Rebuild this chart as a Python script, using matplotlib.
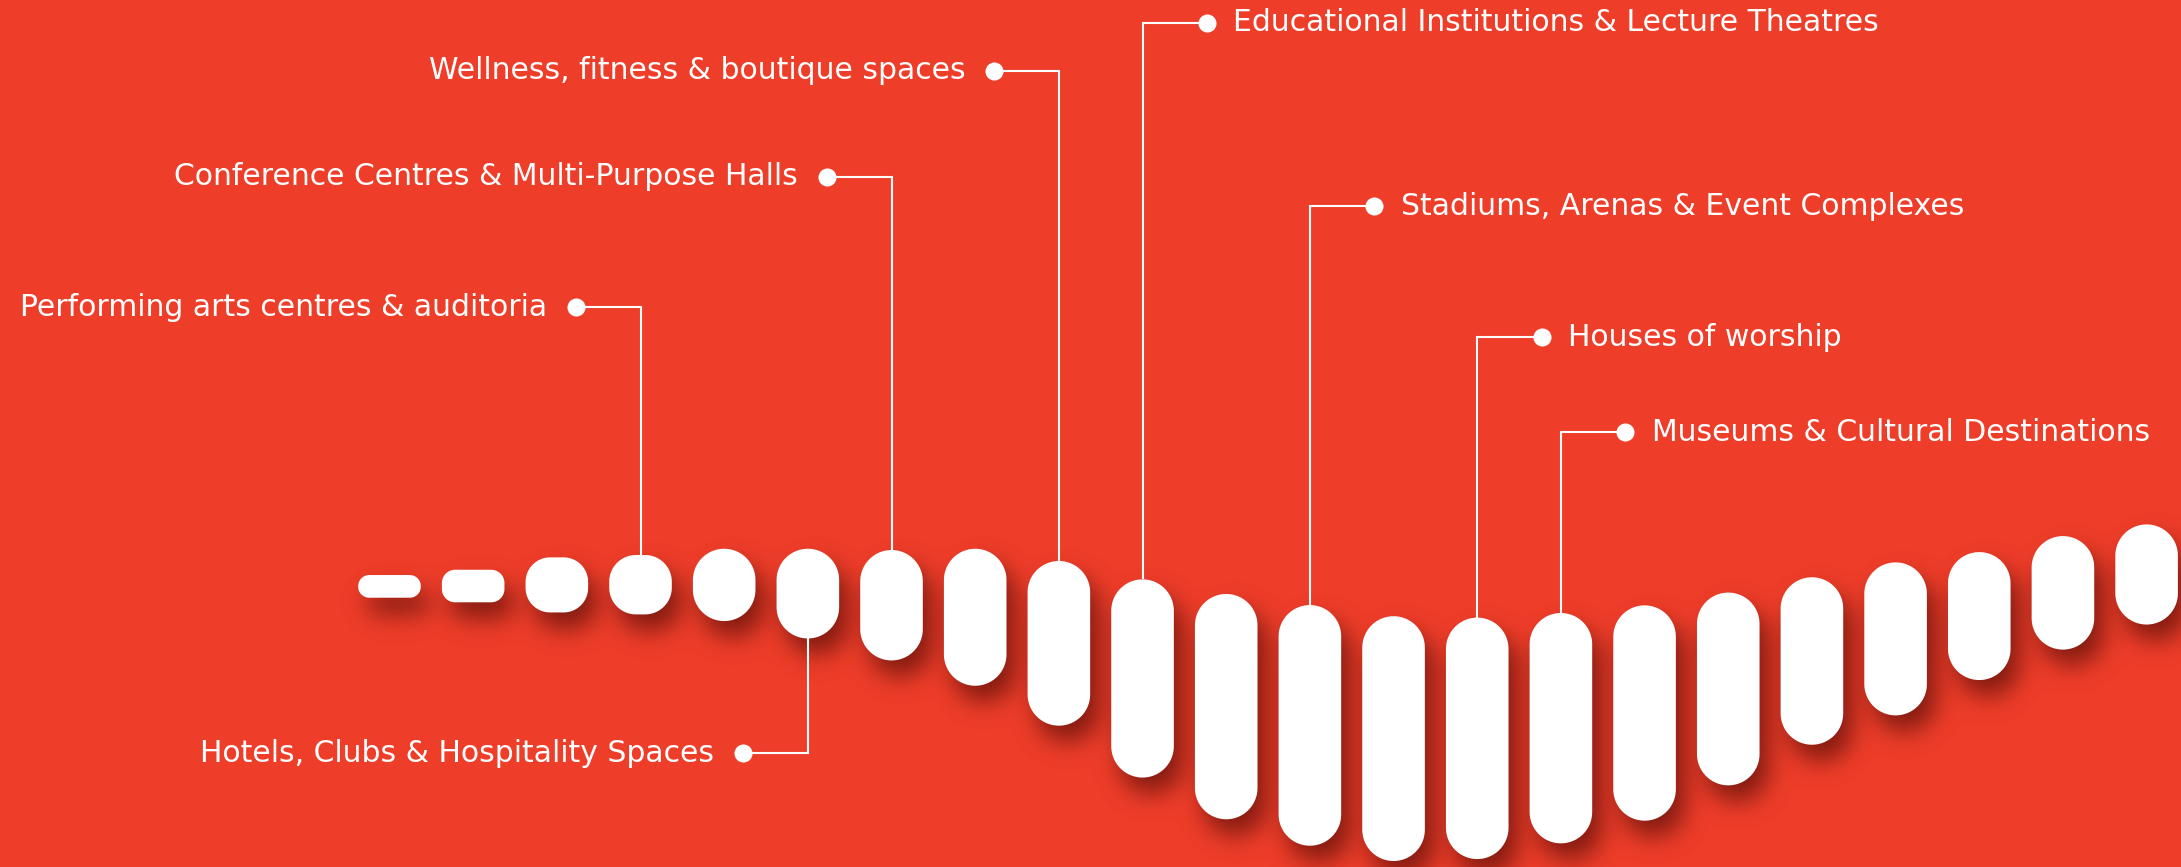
import numpy as np
import matplotlib
matplotlib.use("Agg")
import matplotlib.pyplot as plt
from matplotlib.patches import Polygon

# ---------------- data ----------------
categories = list(range(22))  # pill positions (left -> right)
pill_top = [413.4, 409.6, 400.7, 399.0, 394.5, 394.5, 395.4, 394.5, 403.3, 416.5, 427.0,
            435.0, 443.0, 444.0, 440.7, 435.2, 426.0, 415.0, 404.3, 396.9, 385.4, 377.0]
pill_bottom = [429.7, 433.0, 440.3, 441.7, 446.5, 459.0, 474.8, 493.0, 521.7, 559.0, 589.0,
               608.0, 619.0, 617.6, 606.3, 590.0, 564.6, 535.4, 514.3, 488.9, 467.0, 449.0]

labels = ["Performing arts centres & auditoria",
          "Conference Centres & Multi-Purpose Halls",
          "Wellness, fitness & boutique spaces",
          "Educational Institutions & Lecture Theatres",
          "Stadiums, Arenas & Event Complexes",
          "Houses of worship",
          "Museums & Cultural Destinations",
          "Hotels, Clubs & Hospitality Spaces"]
label_pill = [3, 6, 8, 9, 11, 13, 14, 5]
label_level = [221.0, 127.0, 50.8, 16.3, 148.0, 242.5, 310.8, 541.6]
label_side = ["left", "left", "left", "right", "right", "right", "right", "left"]

# ---------------- style ----------------
BG = "#EE3D29"
W, H, DPI = 2181, 867, 100
XLIM = (-4.655, 21.411)
YLIM = (623.3, 0.0)
PILL_W = 0.748        # in category units
DOT_OFF = 0.77        # dot offset from pill centre, category units

fig = plt.figure(figsize=(W / DPI, H / DPI), dpi=DPI, facecolor=BG)
ax = fig.add_axes([0, 0, 1, 1])
ax.set_facecolor(BG)
ax.set_xlim(*XLIM)
ax.set_ylim(*YLIM)
ax.axis("off")

px_x = W / (XLIM[1] - XLIM[0])
px_y = H / (YLIM[0] - YLIM[1])


def radius_px(h_px, w_px):
    return min(w_px / 2, h_px / 2, max(11.0, h_px * 0.5 - 3.0))


def pill_vertices(cx, top, bottom, w):
    w_px = w * px_x
    h_px = (bottom - top) * px_y
    r = radius_px(h_px, w_px)
    rx, ry = r / px_x, r / px_y
    x0, x1 = cx - w / 2, cx + w / 2
    pts = []
    corners = [((x1 - rx, top + ry), -np.pi / 2, 0.0),
               ((x1 - rx, bottom - ry), 0.0, np.pi / 2),
               ((x0 + rx, bottom - ry), np.pi / 2, np.pi),
               ((x0 + rx, top + ry), np.pi, 1.5 * np.pi)]
    for (ccx, ccy), a0, a1 in corners:
        t = np.linspace(a0, a1, 24)
        pts.extend(zip(ccx + rx * np.cos(t), ccy + ry * np.sin(t)))
    return np.array(pts), r


# ---------------- shadow (computed in pixel space) ----------------
pad = 60
grid = np.zeros((H + 2 * pad, W + 2 * pad))
yy, xx = np.mgrid[0:H + 2 * pad, 0:W + 2 * pad]
SH_DX, SH_DY, SH_SIG = 9.0, 16.0, 12.0
for i, t, b in zip(categories, pill_top, pill_bottom):
    cx = (i - XLIM[0]) * px_x + SH_DX + pad
    cy = (t + b) / 2 * px_y + SH_DY + pad
    hw = PILL_W * px_x / 2
    hh = (b - t) * px_y / 2
    r = radius_px(2 * hh, 2 * hw)
    y0, y1 = int(cy - hh - 3), int(cy + hh + 4)
    x0, x1 = int(cx - hw - 3), int(cx + hw + 4)
    sx = xx[y0:y1, x0:x1] + 0.5
    sy = yy[y0:y1, x0:x1] + 0.5
    qx = np.abs(sx - cx) - (hw - r)
    qy = np.abs(sy - cy) - (hh - r)
    d = np.hypot(np.maximum(qx, 0), np.maximum(qy, 0)) + np.minimum(np.maximum(qx, qy), 0) - r
    grid[y0:y1, x0:x1] = np.maximum(grid[y0:y1, x0:x1], np.clip(0.5 - d, 0, 1))

ky = np.fft.fftfreq(grid.shape[0])
kx = np.fft.rfftfreq(grid.shape[1])
G = np.exp(-2 * (np.pi * SH_SIG) ** 2 * (ky[:, None] ** 2 + kx[None, :] ** 2))
blur = np.fft.irfft2(np.fft.rfft2(grid) * G, s=grid.shape)[pad:pad + H, pad:pad + W]
blur = np.clip(blur, 0, 1)

rgba = np.zeros((H, W, 4))
rgba[..., 0] = 110 / 255
rgba[..., 1] = 20 / 255
rgba[..., 2] = 12 / 255
rgba[..., 3] = 0.85 * blur
ax.imshow(rgba, extent=(XLIM[0], XLIM[1], YLIM[0], YLIM[1]), origin="upper",
          aspect="auto", interpolation="nearest", zorder=1)
ax.set_xlim(*XLIM)
ax.set_ylim(*YLIM)

# ---------------- pills ----------------
for i, t, b in zip(categories, pill_top, pill_bottom):
    verts, _ = pill_vertices(i, t, b, PILL_W)
    ax.add_patch(Polygon(verts, closed=True, facecolor="white", edgecolor="none", zorder=3))

# ---------------- connectors & labels ----------------
FONT = ["DejaVu Sans"]
for text, pi, lvl, side in zip(labels, label_pill, label_level, label_side):
    sign = -1 if side == "left" else 1
    dot_x = pi + sign * DOT_OFF
    end_y = pill_top[pi] if lvl < pill_top[pi] else pill_bottom[pi]
    ax.plot([dot_x, pi, pi], [lvl, lvl, end_y], color="white", lw=1.5,
            solid_joinstyle="miter", solid_capstyle="butt", zorder=2)
    ax.plot([dot_x], [lvl], marker="o", ms=13, color="white", mec="none", zorder=4)
    ax.annotate(text, xy=(dot_x, lvl), xytext=(sign * (19.0 if side == "right" else 21.0), -6.3),
                textcoords="offset points", ha="left" if side == "right" else "right",
                va="baseline", color="white", fontsize=21.5, family=FONT, zorder=5)

fig.savefig("out.png", dpi=DPI, facecolor=BG)
